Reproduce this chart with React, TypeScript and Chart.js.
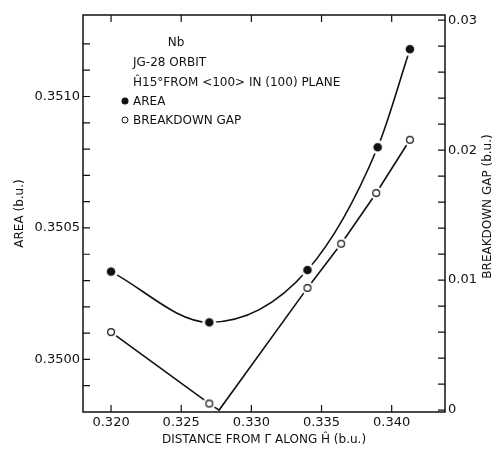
import { useEffect, useRef } from 'react';
import { Chart, registerables } from 'chart.js';

Chart.register(...registerables);

// Extremal orbit area vs. distance from Γ along Ĥ
const areaDistance = [0.320, 0.327, 0.334, 0.339, 0.3413];
const areaValues = [0.350334, 0.350141, 0.35034, 0.350807, 0.35118];

// Breakdown gap; the third entry is where the gap closes (drawn without a marker)
const gapDistance = [0.320, 0.327, 0.3277, 0.334, 0.3364, 0.3389, 0.3413];
const gapValues = [0.0060, 0.0005, 0, 0.0094, 0.0128, 0.0167, 0.0208];
const gapMarked = [true, true, false, true, true, true, true];

// Axis ticks
const xTicks = [0.320, 0.325, 0.330, 0.335, 0.340];
const areaTicks = [
  0.3499, 0.3500, 0.3501, 0.3502, 0.3503, 0.3504, 0.3505,
  0.3506, 0.3507, 0.3508, 0.3509, 0.3510, 0.3511, 0.3512,
];
const areaTickLabels = [0.3500, 0.3505, 0.3510];
const gapTicks = [
  0, 0.002, 0.004, 0.006, 0.008, 0.010, 0.012, 0.014, 0.016,
  0.018, 0.020, 0.022, 0.024, 0.026, 0.028, 0.030,
];
const gapTickLabels = [0, 0.01, 0.02, 0.03];

// Text block inside the plot
const noteLines = ['Nb', 'JG-28 ORBIT', 'Ĥ15°FROM <100> IN (100) PLANE'];
const seriesLabels = ['AREA', 'BREAKDOWN GAP'];
const xTitle = 'DISTANCE FROM Γ ALONG Ĥ (b.u.)';
const areaTitle = 'AREA (b.u.)';
const gapTitle = 'BREAKDOWN GAP (b.u.)';

const FONT = '"DejaVu Sans", sans-serif';
const INK = '#111';

const near = (list: number[], v: number) => list.some((t) => Math.abs(t - v) < 1e-9);

// Markers with a white halo so the curves stop short of them
function makeMarker(filled: boolean): HTMLCanvasElement {
  const c = document.createElement('canvas');
  const size = 16;
  c.width = size;
  c.height = size;
  const g = c.getContext('2d')!;
  const m = size / 2;
  g.fillStyle = '#fff';
  g.beginPath();
  g.arc(m, m, filled ? 7 : 6.5, 0, Math.PI * 2);
  g.fill();
  g.beginPath();
  if (filled) {
    g.fillStyle = INK;
    g.arc(m, m, 4.3, 0, Math.PI * 2);
    g.fill();
  } else {
    g.strokeStyle = INK;
    g.lineWidth = 1.2;
    g.arc(m, m, 3.4, 0, Math.PI * 2);
    g.stroke();
  }
  return c;
}

const framePlugin = {
  id: 'frameAndNotes',
  afterDraw(chart: any) {
    const { ctx, chartArea: a, scales } = chart;
    const tick = 7;
    ctx.save();
    ctx.strokeStyle = INK;
    ctx.lineWidth = 1.5;
    ctx.strokeRect(a.left, a.top, a.right - a.left, a.bottom - a.top);

    ctx.lineWidth = 1.2;
    ctx.beginPath();
    for (const t of scales.x.ticks) {
      const px = scales.x.getPixelForValue(t.value);
      ctx.moveTo(px, a.bottom);
      ctx.lineTo(px, a.bottom - tick);
      ctx.moveTo(px, a.top);
      ctx.lineTo(px, a.top + tick);
    }
    for (const t of scales.y.ticks) {
      const py = scales.y.getPixelForValue(t.value);
      ctx.moveTo(a.left, py);
      ctx.lineTo(a.left + tick, py);
    }
    for (const t of scales.y1.ticks) {
      const py = scales.y1.getPixelForValue(t.value);
      ctx.moveTo(a.right, py);
      ctx.lineTo(a.right - tick, py);
    }
    ctx.stroke();

    // right axis title, reading upward
    ctx.fillStyle = INK;
    ctx.font = `12px ${FONT}`;
    ctx.textAlign = 'center';
    ctx.textBaseline = 'middle';
    ctx.save();
    ctx.translate(488, (a.top + a.bottom) / 2 - 7);
    ctx.rotate(-Math.PI / 2);
    ctx.fillText(gapTitle, 0, 0);
    ctx.restore();

    // note block and key
    const lx = a.left + 50;
    ctx.textAlign = 'center';
    ctx.fillText(noteLines[0], a.left + 93, a.top + 28);
    ctx.textAlign = 'left';
    ctx.fillText(noteLines[1], lx, a.top + 48);
    ctx.fillText(noteLines[2], lx, a.top + 68);
    ctx.fillText(seriesLabels[0], lx, a.top + 87);
    ctx.fillText(seriesLabels[1], lx, a.top + 106);
    ctx.beginPath();
    ctx.arc(lx - 8, a.top + 86, 3.5, 0, Math.PI * 2);
    ctx.fill();
    ctx.beginPath();
    ctx.lineWidth = 1;
    ctx.arc(lx - 8, a.top + 105, 3, 0, Math.PI * 2);
    ctx.stroke();
    ctx.restore();
  },
};

export default function App() {
  const canvasRef = useRef<HTMLCanvasElement | null>(null);

  useEffect(() => {
    document.body.style.margin = '0';
    const canvas = canvasRef.current;
    if (!canvas) return;

    const filledMarker = makeMarker(true);
    const openMarker = makeMarker(false);

    const chart = new Chart(canvas, {
      type: 'line',
      data: {
        datasets: [
          {
            label: seriesLabels[0],
            data: areaDistance.map((x, i) => ({ x, y: areaValues[i] })),
            yAxisID: 'y',
            borderColor: INK,
            borderWidth: 1.6,
            cubicInterpolationMode: 'monotone',
            pointStyle: filledMarker as any,
            pointRadius: 4,
          },
          {
            label: seriesLabels[1],
            data: gapDistance.map((x, i) => ({ x, y: gapValues[i] })),
            yAxisID: 'y1',
            borderColor: INK,
            borderWidth: 1.6,
            tension: 0,
            pointStyle: openMarker as any,
            pointRadius: gapMarked.map((m) => (m ? 4 : 0)),
          },
        ],
      },
      options: {
        responsive: false,
        animation: false,
        layout: { padding: { top: 15, left: 0, right: 0, bottom: 0 } },
        plugins: {
          legend: { display: false },
          tooltip: { enabled: false },
        },
        scales: {
          x: {
            type: 'linear',
            min: 0.318,
            max: 0.3438,
            grid: { display: false, drawTicks: false },
            border: { display: false },
            afterBuildTicks: (s: any) => {
              s.ticks = xTicks.map((value) => ({ value }));
            },
            afterFit: (s: any) => {
              s.height = 37;
            },
            ticks: {
              autoSkip: false,
              maxRotation: 0,
              padding: 3,
              color: INK,
              font: { family: FONT, size: 13 },
              callback: (v: any) => Number(v).toFixed(3),
            },
            title: {
              display: true,
              text: xTitle,
              color: INK,
              font: { family: FONT, size: 12 },
              padding: { top: 0, bottom: 2 },
            },
          },
          y: {
            type: 'linear',
            position: 'left',
            min: 0.3498,
            max: 0.35131,
            grid: { display: false, drawTicks: false },
            border: { display: false },
            afterBuildTicks: (s: any) => {
              s.ticks = areaTicks.map((value) => ({ value }));
            },
            afterFit: (s: any) => {
              s.width = 83;
            },
            ticks: {
              autoSkip: false,
              padding: 3,
              color: INK,
              font: { family: FONT, size: 13 },
              callback: (v: any) => (near(areaTickLabels, Number(v)) ? Number(v).toFixed(4) : ''),
            },
            title: {
              display: true,
              text: areaTitle,
              color: INK,
              font: { family: FONT, size: 12 },
              padding: { top: 13, bottom: 0 },
            },
          },
          y1: {
            type: 'linear',
            position: 'right',
            min: -0.00015,
            max: 0.0304,
            grid: { display: false, drawTicks: false },
            border: { display: false },
            afterBuildTicks: (s: any) => {
              s.ticks = gapTicks.map((value) => ({ value }));
            },
            afterFit: (s: any) => {
              s.width = 50;
            },
            ticks: {
              autoSkip: false,
              padding: 3,
              color: INK,
              font: { family: FONT, size: 13 },
              callback: (v: any) => {
                const n = Number(v);
                if (!near(gapTickLabels, n)) return '';
                return Math.abs(n) < 1e-12 ? '0' : n.toFixed(2);
              },
            },
          },
        },
      },
      plugins: [framePlugin],
    });

    return () => chart.destroy();
  }, []);

  return (
    <div style={{ width: 495, height: 449, background: '#fff' }}>
      <canvas ref={canvasRef} width={495} height={449} style={{ display: 'block' }} />
    </div>
  );
}
